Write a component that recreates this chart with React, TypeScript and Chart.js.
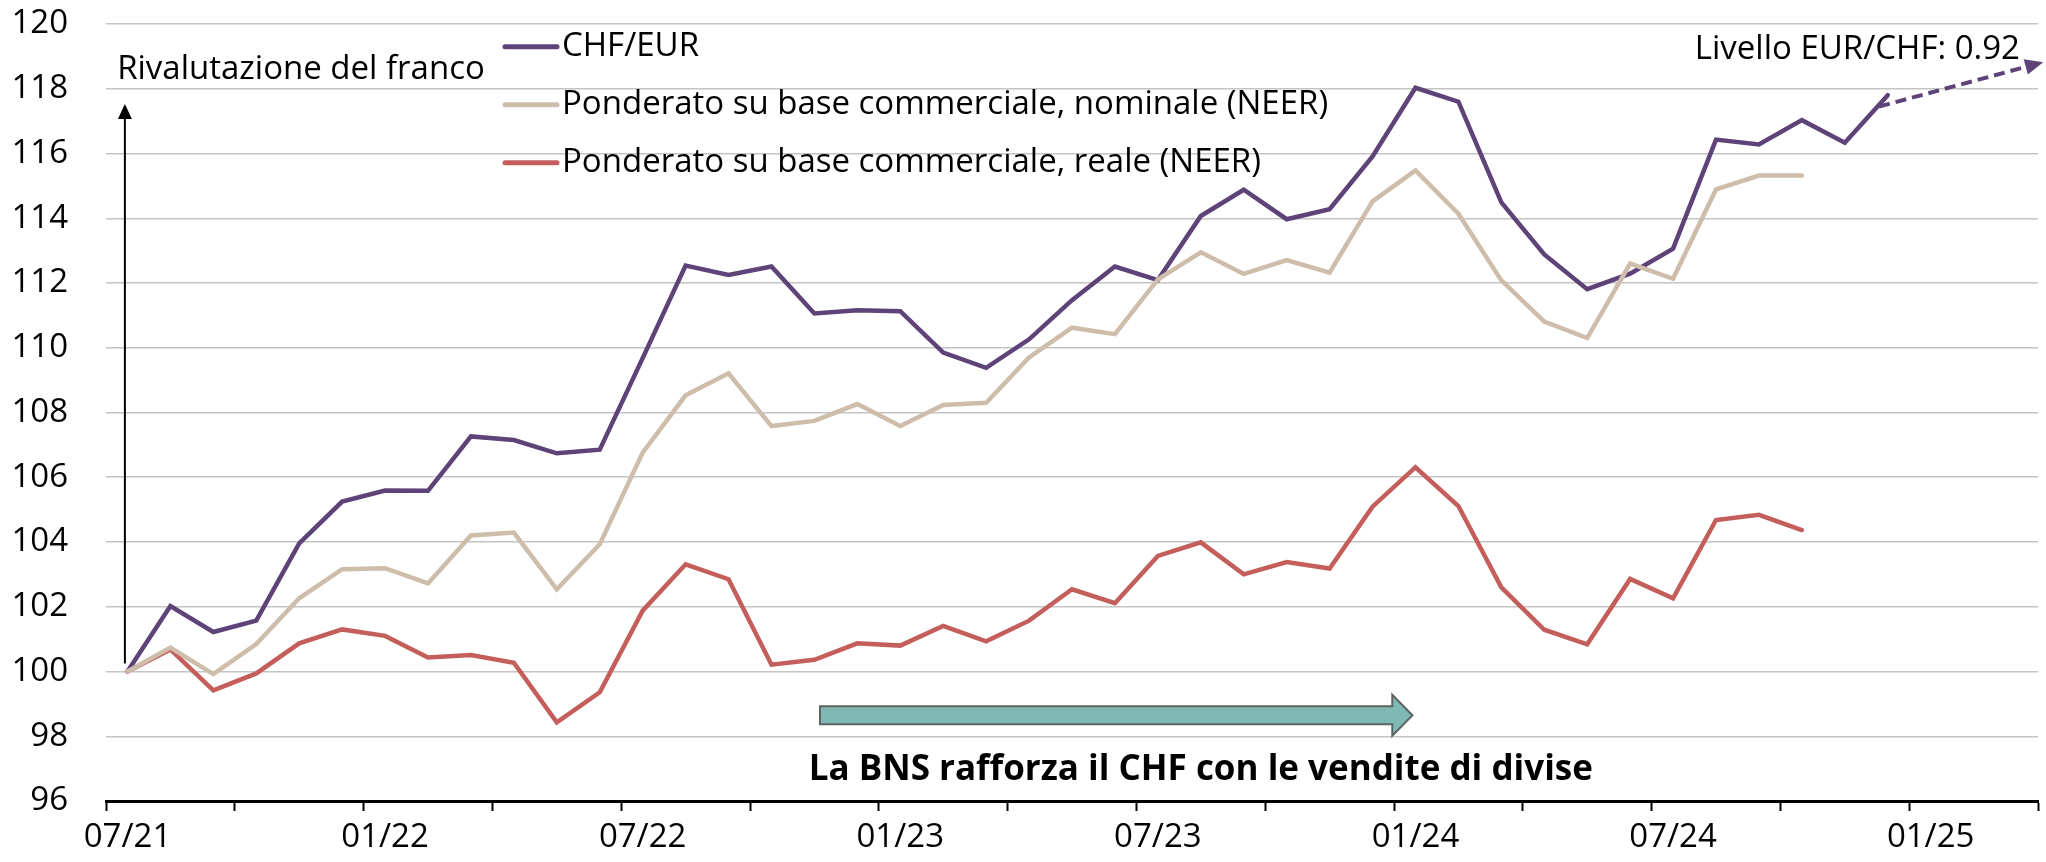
import React, { useEffect, useRef } from 'react';
import { Chart, registerables } from 'chart.js';

Chart.register(...registerables);

// ---------- data ----------
const months = [
  '07/21', '08/21', '09/21', '10/21', '11/21', '12/21',
  '01/22', '02/22', '03/22', '04/22', '05/22', '06/22',
  '07/22', '08/22', '09/22', '10/22', '11/22', '12/22',
  '01/23', '02/23', '03/23', '04/23', '05/23', '06/23',
  '07/23', '08/23', '09/23', '10/23', '11/23', '12/23',
  '01/24', '02/24', '03/24', '04/24', '05/24', '06/24',
  '07/24', '08/24', '09/24', '10/24', '11/24', '12/24',
  '01/25', '02/25', '03/25',
];

const chfEur = [
  100, 102.02, 101.22, 101.57, 103.96, 105.25, 105.59, 105.58, 107.26, 107.15, 106.74, 106.85,
  109.68, 112.54, 112.25, 112.51, 111.06, 111.16, 111.13, 109.85, 109.38, 110.26, 111.47, 112.51,
  112.09, 114.07, 114.88, 113.97, 114.28, 115.91, 118.03, 117.6, 114.49, 112.88, 111.81, 112.29,
  113.06, 116.43, 116.28, 117.03, 116.33, 117.8,
];

const neerNominal = [
  100, 100.74, 99.92, 100.85, 102.26, 103.16, 103.19, 102.72, 104.2, 104.29, 102.54, 103.93,
  106.76, 108.53, 109.21, 107.58, 107.74, 108.26, 107.58, 108.23, 108.3, 109.7, 110.62, 110.42,
  112.11, 112.95, 112.28, 112.71, 112.32, 114.52, 115.48, 114.14, 112.08, 110.81, 110.3, 112.6,
  112.13, 114.89, 115.32, 115.32,
];

const neerReal = [
  100, 100.68, 99.42, 99.94, 100.87, 101.3, 101.1, 100.43, 100.51, 100.27, 98.43, 99.36,
  101.88, 103.31, 102.85, 100.21, 100.36, 100.87, 100.8, 101.41, 100.93, 101.57, 102.54, 102.11,
  103.57, 103.99, 103.0, 103.38, 103.18, 105.09, 106.31, 105.11, 102.6, 101.29, 100.84, 102.86,
  102.26, 104.68, 104.84, 104.37,
];

const yTickValues = [96, 98, 100, 102, 104, 106, 108, 110, 112, 114, 116, 118, 120];

const seriesNames = [
  'CHF/EUR',
  'Ponderato su base commerciale, nominale (NEER)',
  'Ponderato su base commerciale, reale (NEER)',
];

const titleText = 'Rivalutazione del franco';
const interventionText = 'La BNS rafforza il CHF con le vendite di divise';
const levelText = 'Livello EUR/CHF: 0.92';

// annotation anchors (category index, value)
const upArrow = { x: -0.06, from: 100.25, to: 117.53 };
const interventionArrow = { from: 16.13, shaftEnd: 29.46, tip: 29.93, center: 98.65 };
const forecastArrow = { x0: 40.8, y0: 117.45, x1: 44.62, y1: 118.82 };
const titleAnchor = { x: -0.24, y: 118.6 };
const interventionAnchor = { x: 25.0, y: 96.95 };
const levelAnchor = { x: 44.08, y: 119.2 };

// ---------- styles ----------
const FONT = "'Open Sans', 'Noto Sans', sans-serif";
const FS = 33;
const COLORS = ['#5e4378', '#cebdab', '#c45e5b'];

const annotationPlugin = {
  id: 'snbAnnotations',
  afterDraw(chart: any) {
    const { ctx, chartArea } = chart;
    const xs = chart.scales.x;
    const ys = chart.scales.y;
    const px = (v: number) => xs.getPixelForValue(v);
    const py = (v: number) => ys.getPixelForValue(v);
    ctx.save();

    // legend
    const lx = chartArea.left + 397;
    chart.data.datasets.forEach((ds: any, i: number) => {
      const yy = chartArea.top + 22.7 + i * 58;
      ctx.strokeStyle = ds.borderColor;
      ctx.lineWidth = 5;
      ctx.lineCap = 'round';
      ctx.beginPath();
      ctx.moveTo(lx + 2, yy);
      ctx.lineTo(lx + 54, yy);
      ctx.stroke();
      ctx.fillStyle = '#000';
      ctx.font = `${FS}px ${FONT}`;
      ctx.textAlign = 'left';
      ctx.textBaseline = 'middle';
      ctx.fillText(ds.label, lx + 59, yy);
    });

    // title text
    ctx.fillStyle = '#000';
    ctx.font = `${FS}px ${FONT}`;
    ctx.textAlign = 'left';
    ctx.textBaseline = 'middle';
    ctx.fillText(titleText, px(titleAnchor.x), py(titleAnchor.y));

    // vertical arrow
    const ax = px(upArrow.x);
    const ay0 = py(upArrow.from);
    const ay1 = py(upArrow.to);
    ctx.strokeStyle = '#000';
    ctx.lineWidth = 2;
    ctx.lineCap = 'butt';
    ctx.beginPath();
    ctx.moveTo(ax, ay0);
    ctx.lineTo(ax, ay1 + 10);
    ctx.stroke();
    ctx.fillStyle = '#000';
    ctx.beginPath();
    ctx.moveTo(ax, ay1);
    ctx.lineTo(ax - 7, ay1 + 15);
    ctx.lineTo(ax + 7, ay1 + 15);
    ctx.closePath();
    ctx.fill();

    // intervention arrow
    const cy = py(interventionArrow.center);
    const x0 = px(interventionArrow.from);
    const x1 = px(interventionArrow.shaftEnd);
    const x2 = px(interventionArrow.tip);
    ctx.beginPath();
    ctx.moveTo(x0, cy - 9);
    ctx.lineTo(x1, cy - 9);
    ctx.lineTo(x1, cy - 20.5);
    ctx.lineTo(x2, cy);
    ctx.lineTo(x1, cy + 20.5);
    ctx.lineTo(x1, cy + 9);
    ctx.lineTo(x0, cy + 9);
    ctx.closePath();
    ctx.fillStyle = '#7fb9b3';
    ctx.fill();
    ctx.strokeStyle = '#5f6463';
    ctx.lineWidth = 2;
    ctx.lineJoin = 'miter';
    ctx.stroke();

    ctx.fillStyle = '#000';
    ctx.font = `bold 35px ${FONT}`;
    ctx.textAlign = 'center';
    ctx.textBaseline = 'middle';
    ctx.fillText(interventionText, px(interventionAnchor.x), py(interventionAnchor.y));

    // level text
    ctx.font = `${FS}px ${FONT}`;
    ctx.textAlign = 'right';
    ctx.fillText(levelText, px(levelAnchor.x), py(levelAnchor.y));

    // dashed forecast arrow
    const fx0 = px(forecastArrow.x0);
    const fy0 = py(forecastArrow.y0);
    const fx1 = px(forecastArrow.x1);
    const fy1 = py(forecastArrow.y1);
    const ang = Math.atan2(fy1 - fy0, fx1 - fx0);
    const headLen = 18;
    const hw = 8;
    const bx = fx1 - headLen * Math.cos(ang);
    const by = fy1 - headLen * Math.sin(ang);
    ctx.strokeStyle = COLORS[0];
    ctx.lineWidth = 4;
    ctx.setLineDash([11, 6]);
    ctx.beginPath();
    ctx.moveTo(fx0, fy0);
    ctx.lineTo(bx, by);
    ctx.stroke();
    ctx.setLineDash([]);
    ctx.fillStyle = COLORS[0];
    ctx.beginPath();
    ctx.moveTo(fx1, fy1);
    ctx.lineTo(bx + hw * Math.sin(ang), by - hw * Math.cos(ang));
    ctx.lineTo(bx - hw * Math.sin(ang), by + hw * Math.cos(ang));
    ctx.closePath();
    ctx.fill();

    ctx.restore();
  },
};

export default function App() {
  const ref = useRef<HTMLCanvasElement>(null);

  useEffect(() => {
    const canvas = ref.current;
    if (!canvas) return;
    const common = {
      pointRadius: 0,
      pointHoverRadius: 0,
      borderWidth: 4.5,
      tension: 0,
      fill: false,
      borderCapStyle: 'round' as const,
      borderJoinStyle: 'miter' as const,
    };
    const chart = new Chart(canvas, {
      type: 'line',
      data: {
        labels: months,
        datasets: [
          { ...common, label: seriesNames[0], data: chfEur, borderColor: COLORS[0], backgroundColor: COLORS[0], order: 1 },
          { ...common, label: seriesNames[1], data: neerNominal, borderColor: COLORS[1], backgroundColor: COLORS[1], order: 0 },
          { ...common, label: seriesNames[2], data: neerReal, borderColor: COLORS[2], backgroundColor: COLORS[2], order: 2 },
        ],
      },
      options: {
        responsive: false,
        maintainAspectRatio: false,
        animation: false,
        devicePixelRatio: 1,
        layout: { padding: { top: 24, right: 8, bottom: 0, left: 0 } },
        plugins: {
          legend: { display: false },
          tooltip: { enabled: false },
          title: { display: false },
        },
        scales: {
          x: {
            type: 'category',
            offset: true,
            grid: {
              display: true,
              drawOnChartArea: false,
              drawTicks: true,
              tickLength: 10,
              tickWidth: 2,
              offset: true,
              tickColor: (c: any) =>
                c.index === undefined || c.index % 3 === 0 ? '#000' : 'rgba(0,0,0,0)',
            },
            border: { display: true, color: '#000', width: 3 },
            ticks: {
              autoSkip: false,
              maxRotation: 0,
              minRotation: 0,
              padding: 7,
              color: '#000',
              font: { family: FONT, size: FS },
              callback: (_v: any, i: number) => (i % 6 === 0 ? months[i] : ''),
            },
            afterFit: (s: any) => {
              s.height = 61;
              s.paddingLeft = 0;
              s.paddingRight = 0;
            },
          },
          y: {
            min: 96,
            max: 120,
            afterBuildTicks: (s: any) => {
              s.ticks = yTickValues.map((v) => ({ value: v }));
            },
            ticks: {
              padding: 38,
              color: '#000',
              font: { family: FONT, size: FS },
            },
            grid: { color: '#c4c4c4', lineWidth: 1.5, drawTicks: false },
            border: { display: false },
            afterFit: (s: any) => {
              s.width = 106;
              s.paddingTop = 0;
              s.paddingBottom = 0;
            },
          },
        },
      },
      plugins: [annotationPlugin],
    });
    return () => chart.destroy();
  }, []);

  return (
    <div style={{ position: 'fixed', left: 0, top: 0, width: 2046, height: 862, background: '#fff' }}>
      <canvas ref={ref} width={2046} height={862} style={{ display: 'block', width: 2046, height: 862 }} />
    </div>
  );
}
